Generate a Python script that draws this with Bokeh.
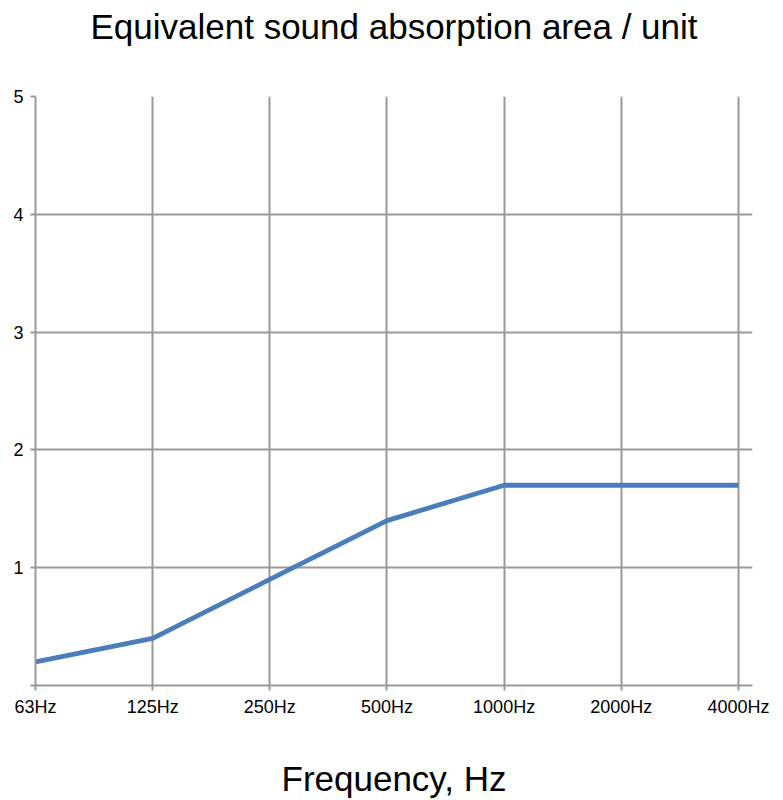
from bokeh.plotting import figure
from bokeh.models import FixedTicker, Range1d
from bokeh.embed import file_html
from bokeh.resources import INLINE

TITLE = "Equivalent sound absorption area / unit"
X_LABEL = "Frequency, Hz"
categories = ["63Hz", "125Hz", "250Hz", "500Hz", "1000Hz", "2000Hz", "4000Hz"]
values = [0.2, 0.4, 0.9, 1.4, 1.7, 1.7, 1.7]
y_ticks = [0, 1, 2, 3, 4, 5]
y_labels = ["", "1", "2", "3", "4", "5"]

xs = list(range(len(categories)))
FONT = "Liberation Sans"
GRID = "#999999"

p = figure(width=783, height=800, output_backend="svg", toolbar_location=None,
           x_range=Range1d(0, len(categories) - 1 + 0.12), y_range=Range1d(0, 5),
           title=TITLE + "\n ")
p.outline_line_color = None
p.min_border_left = 35
p.min_border_right = 31
p.min_border_top = 96
p.min_border_bottom = 112

p.title.text_font = FONT
p.title.text_font_size = "35px"
p.title.text_font_style = "normal"
p.title.align = "center"
p.title.text_color = "#000000"
p.title.text_line_height = 1.3
p.title.standoff = 0
p.title.offset = 3

p.line(xs, values, line_color="#4a7ebb", line_width=4.8)

p.xaxis.ticker = FixedTicker(ticks=xs)
p.xaxis.major_label_overrides = {i: c for i, c in enumerate(categories)}
p.yaxis.ticker = FixedTicker(ticks=y_ticks)
p.yaxis.major_label_overrides = {t: l for t, l in zip(y_ticks, y_labels)}

for ax in (p.xaxis[0], p.yaxis[0]):
    ax.axis_line_color = GRID
    ax.axis_line_width = 2
    ax.major_tick_line_color = GRID
    ax.major_tick_line_width = 2
    ax.major_tick_out = 5
    ax.major_tick_in = 0
    ax.minor_tick_line_color = None
    ax.major_label_text_font = FONT
    ax.major_label_text_font_size = "18px"
    ax.major_label_text_color = "#000000"

p.yaxis.major_label_standoff = 7
p.xaxis.major_label_standoff = 6
p.xaxis.axis_label = X_LABEL
p.xaxis.axis_label_text_font = FONT
p.xaxis.axis_label_text_font_size = "35px"
p.xaxis.axis_label_text_font_style = "normal"
p.xaxis.axis_label_text_color = "#000000"
p.xaxis.axis_label_standoff = 39

p.xgrid.ticker = FixedTicker(ticks=xs)
p.ygrid.ticker = FixedTicker(ticks=y_ticks)
for g in (p.xgrid[0], p.ygrid[0]):
    g.grid_line_color = GRID
    g.grid_line_width = 2

open("out.html", "w").write(file_html(p, INLINE))
